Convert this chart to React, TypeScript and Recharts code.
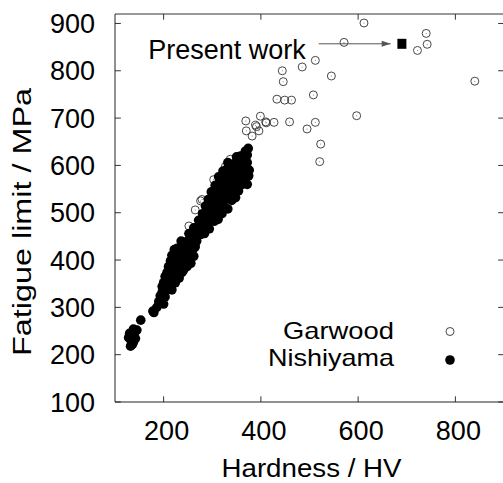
import { ScatterChart, Scatter, XAxis, YAxis, ReferenceLine } from 'recharts';

const FONT = '"Liberation Sans", Arial, Helvetica, sans-serif';

// Garwood data (open circles): [hardness HV, fatigue limit MPa]
const garwood = [
  [612, 901], [571, 860], [740, 879], [742, 856], [722, 843], [840, 778],
  [512, 822], [485, 808], [444, 800], [446, 777], [545, 789], [433, 740],
  [449, 738], [463, 738], [508, 749], [597, 705], [399, 704], [369, 694],
  [389, 685], [411, 690], [427, 691], [459, 692], [512, 691], [495, 677],
  [370, 673], [396, 673], [382, 662], [523, 645], [521, 608], [337, 613],
  [303, 570], [279, 528], [327, 598], [276, 525], [265, 506], [252, 472],
  [391, 682], [410, 692],
];

// Nishiyama data (filled circles)
const nishiyama = [
  [132, 218], [128, 236], [138, 254], [142, 234], [145, 252], [138, 227],
  [130, 245], [135, 240], [140, 246], [136, 222], [133, 230],
  [153, 273], [178, 292], [180, 289],
  [186, 300], [190, 312], [195, 318], [200, 307], [193, 324], [197, 332], [203, 322],
  [197, 344], [205, 340], [212, 338], [217, 337],
  [200, 352], [208, 350], [216, 348], [224, 352],
  [203, 365], [210, 362], [218, 360], [226, 358], [232, 362],
  [207, 374], [214, 372], [222, 376], [230, 370], [238, 374],
  [210, 386], [218, 388], [226, 384], [234, 386], [241, 379], [248, 386],
  [214, 398], [222, 396], [230, 394], [238, 398], [246, 395], [256, 393],
  [217, 410], [224, 408], [232, 412], [240, 406], [248, 407], [256, 410], [262, 408],
  [222, 422], [228, 425], [236, 424], [244, 420], [252, 426], [260, 422], [265, 428],
  [236, 440], [244, 438], [252, 442], [260, 436], [268, 440],
  [252, 456], [260, 452], [268, 450], [276, 454], [284, 456],
  [262, 468], [270, 470], [278, 466], [286, 470], [294, 466],
  [272, 484], [280, 486], [288, 480], [296, 484], [304, 482], [312, 486],
  [280, 498], [288, 500], [296, 496], [304, 500], [312, 496], [320, 498],
  [286, 514], [294, 512], [302, 516], [310, 510], [318, 514], [326, 512], [332, 508],
  [292, 528], [300, 530], [308, 526], [316, 532], [324, 528], [332, 530], [340, 526], [348, 532],
  [298, 544], [306, 546], [314, 540], [322, 546], [330, 542], [338, 546], [346, 540], [354, 546],
  [306, 558], [314, 562], [322, 556], [330, 560], [338, 558], [346, 562], [354, 556], [362, 560], [372, 560],
  [313, 576], [320, 572], [328, 576], [336, 570], [344, 576], [352, 572], [360, 576], [368, 572], [375, 578],
  [322, 588], [330, 592], [338, 586], [346, 590], [354, 588], [362, 592], [370, 586], [376, 590],
  [332, 606], [340, 602], [348, 606], [356, 600], [364, 604], [372, 606],
  [350, 618], [358, 620], [366, 616], [372, 622],
  [368, 630], [374, 636], [370, 626],
];

const presentWork = [[690, 857]];
const arrowFrom = [519, 857];
const arrowTo = [667, 857];

const seriesNames = ['Garwood', 'Nishiyama'];
const xTicks = [200, 400, 600, 800];
const yTicks = [100, 200, 300, 400, 500, 600, 700, 800, 900];
const xDomain = [100, 900];
const yDomain = [100, 920];

const toPoints = (rows) => rows.map(([x, y]) => ({ x, y }));

const OpenCircle = (props) => (
  <g>
    <circle cx={props.cx} cy={props.cy} r={4} fill="none" stroke="#333" strokeWidth={0.9} />
    <circle cx={props.cx} cy={props.cy} r={0.5} fill="#666" />
  </g>
);

const FilledCircle = (props) => <circle cx={props.cx} cy={props.cy} r={4.8} fill="#000" />;

const Square = (props) => (
  <rect x={props.cx - 4.5} y={props.cy - 5} width={9} height={10} fill="#000" />
);

const ArrowEnd = (props) => {
  const { cx, cy, payload } = props;
  if (payload.kind === 'tail') {
    return (
      <text x={cx - 13} y={cy + 15} textAnchor="end" fontSize={27} fontFamily={FONT} fill="#000">
        Present work
      </text>
    );
  }
  return <polygon points={`${cx},${cy} ${cx - 9},${cy - 3} ${cx - 9},${cy + 3}`} fill="#555" />;
};

const XTick = ({ x, y, payload }) => (
  <text x={x + 3} y={y} dy="0.71em" textAnchor="middle" fontSize={27} fontFamily={FONT} fill="#000">
    {payload.value}
  </text>
);

const YTick = ({ x, y, payload }) => (
  <text x={x} y={y} dy="0.355em" textAnchor="end" fontSize={27} fontFamily={FONT} fill="#000">
    {payload.value}
  </text>
);

export default function App() {
  const arrowData = [
    { x: arrowFrom[0], y: arrowFrom[1], kind: 'tail' },
    { x: arrowTo[0], y: arrowTo[1], kind: 'head' },
  ];

  return (
    <div style={{ position: 'absolute', left: 0, top: 0, width: 503, height: 483, overflow: 'hidden', background: '#fff' }}>
      <ScatterChart width={505} height={483} margin={{ top: 14, right: 1, bottom: 0, left: 0 }}>
        <XAxis
          type="number"
          dataKey="x"
          domain={xDomain}
          ticks={xTicks}
          allowDataOverflow
          height={81}
          tickSize={0}
          tickMargin={19}
          tickLine={false}
          axisLine={{ stroke: '#222', strokeWidth: 1 }}
          tick={<XTick />}
          label={{
            content: ({ viewBox }) => (
              <text
                x={viewBox.x + viewBox.width / 2 + 2}
                y={477}
                textAnchor="middle"
                fontSize={25}
                textLength={180}
                lengthAdjust="spacingAndGlyphs"
                fontFamily={FONT}
                fill="#000"
              >
                Hardness / HV
              </text>
            ),
          }}
        />
        <YAxis
          type="number"
          dataKey="y"
          domain={yDomain}
          ticks={yTicks}
          allowDataOverflow
          width={115}
          tickSize={0}
          tickMargin={20}
          tickLine={false}
          axisLine={{ stroke: '#222', strokeWidth: 1 }}
          tick={<YTick />}
          label={{
            content: ({ viewBox }) => {
              const cy = viewBox.y + viewBox.height / 2 + 14;
              return (
                <text
                  x={31}
                  y={cy}
                  transform={`rotate(-90, 31, ${cy})`}
                  textAnchor="middle"
                  fontSize={25}
                  fontFamily={FONT}
                  textLength={268}
                  lengthAdjust="spacingAndGlyphs"
                  fill="#000"
                >
                  Fatigue limit / MPa
                </text>
              );
            },
          }}
        />

        {/* frame: top and right borders */}
        <ReferenceLine y={yDomain[1]} stroke="#333" strokeWidth={1} />
        <ReferenceLine x={xDomain[1]} stroke="#333" strokeWidth={1} />

        {/* inward ticks on all four sides */}
        {xTicks.map((v) => (
          <ReferenceLine key={`xb-${v}`} segment={[{ x: v, y: yDomain[0] }, { x: v, y: yDomain[0] + 12 }]} stroke="#333" />
        ))}
        {xTicks.map((v) => (
          <ReferenceLine key={`xt-${v}`} segment={[{ x: v, y: yDomain[1] }, { x: v, y: yDomain[1] - 12 }]} stroke="#333" />
        ))}
        {yTicks.map((v) => (
          <ReferenceLine key={`yl-${v}`} segment={[{ x: xDomain[0], y: v }, { x: xDomain[0] + 12, y: v }]} stroke="#333" />
        ))}
        {yTicks.map((v) => (
          <ReferenceLine key={`yr-${v}`} segment={[{ x: xDomain[1], y: v }, { x: xDomain[1] - 12, y: v }]} stroke="#333" />
        ))}

        <Scatter name={seriesNames[0]} data={toPoints(garwood)} shape={OpenCircle} isAnimationActive={false} />
        <Scatter name={seriesNames[1]} data={toPoints(nishiyama)} shape={FilledCircle} isAnimationActive={false} />
        <Scatter
          data={arrowData}
          line={{ stroke: '#555', strokeWidth: 1 }}
          shape={ArrowEnd}
          isAnimationActive={false}
        />
        <Scatter data={toPoints(presentWork)} shape={Square} isAnimationActive={false} />
      </ScatterChart>

      {/* legend */}
      <svg style={{ position: 'absolute', left: 0, top: 0 }} width={503} height={483} pointerEvents="none">
        <text x={394} y={339} textAnchor="end" fontSize={24} textLength={111} lengthAdjust="spacingAndGlyphs" fontFamily={FONT} fill="#000">{seriesNames[0]}</text>
        <circle cx={450} cy={331.5} r={4} fill="none" stroke="#333" strokeWidth={0.9} />
        <text x={394} y={366} textAnchor="end" fontSize={24} textLength={126} lengthAdjust="spacingAndGlyphs" fontFamily={FONT} fill="#000">{seriesNames[1]}</text>
        <circle cx={450} cy={360} r={4.8} fill="#000" />
      </svg>
    </div>
  );
}
